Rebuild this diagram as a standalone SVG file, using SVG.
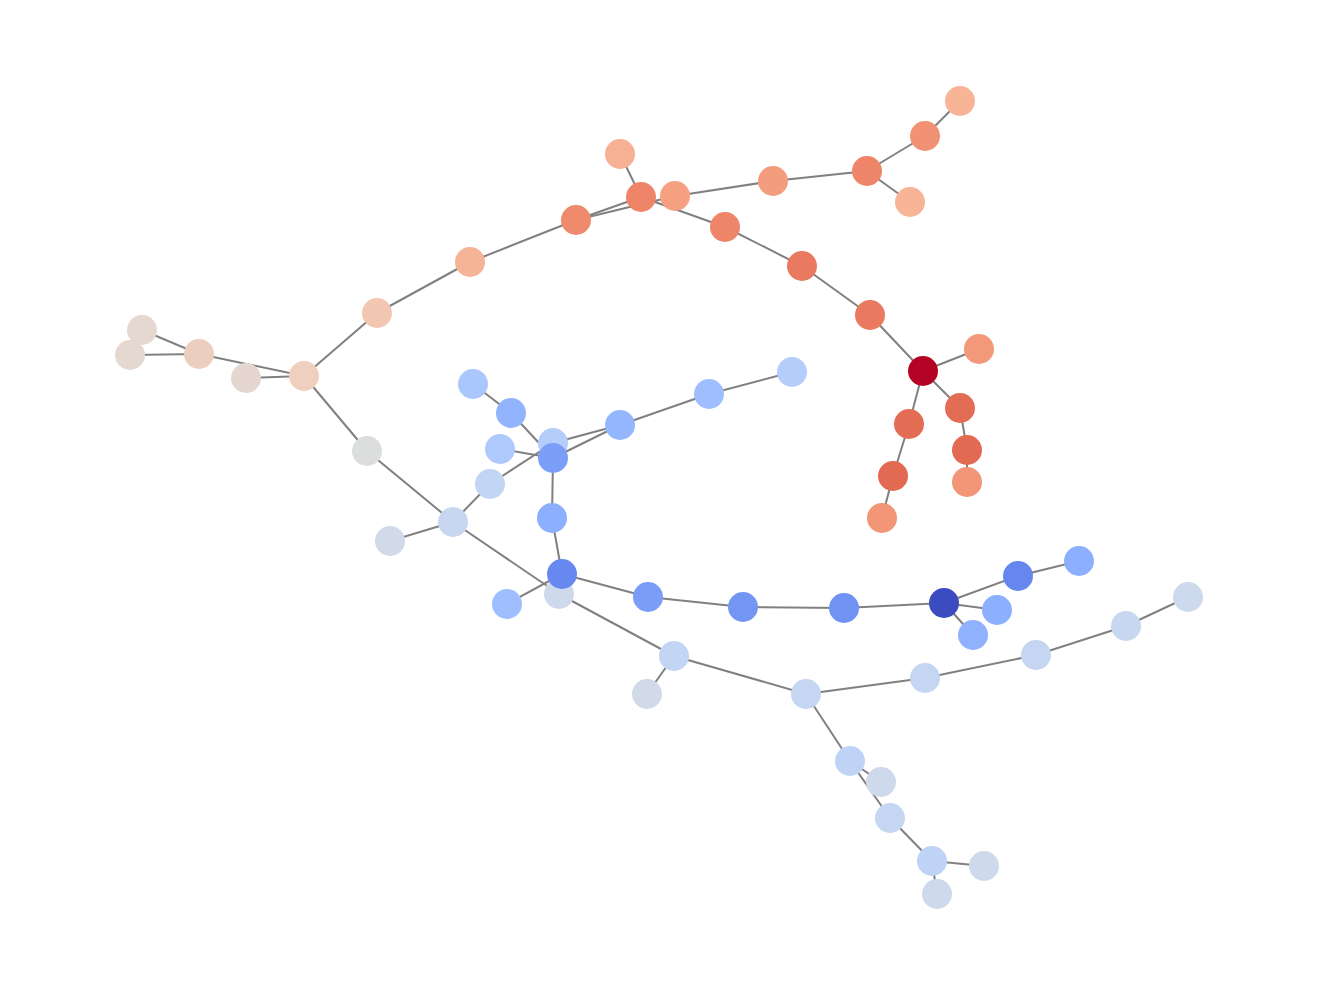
<svg xmlns="http://www.w3.org/2000/svg" width="1320" height="998" viewBox="0 0 1320 998">
<style>
.e line{stroke:#808080;stroke-width:2}
circle{r:15;stroke:none}
</style>
<rect width="1320" height="998" fill="#ffffff"/>
<g class="e" id="edges">
<line x1="960" y1="101" x2="925" y2="136"/>
<line x1="925" y1="136" x2="867" y2="171"/>
<line x1="867" y1="171" x2="910" y2="202"/>
<line x1="867" y1="171" x2="773" y2="181"/>
<line x1="773" y1="181" x2="675" y2="196"/>
<line x1="675" y1="196" x2="576" y2="220"/>
<line x1="641" y1="197" x2="576" y2="220"/>
<line x1="641" y1="197" x2="620" y2="154"/>
<line x1="641" y1="197" x2="725" y2="227"/>
<line x1="725" y1="227" x2="802" y2="266"/>
<line x1="802" y1="266" x2="870" y2="315"/>
<line x1="870" y1="315" x2="923" y2="371"/>
<line x1="923" y1="371" x2="979" y2="349"/>
<line x1="923" y1="371" x2="909" y2="424"/>
<line x1="909" y1="424" x2="893" y2="476"/>
<line x1="893" y1="476" x2="882" y2="518"/>
<line x1="923" y1="371" x2="960" y2="408"/>
<line x1="960" y1="408" x2="967" y2="450"/>
<line x1="967" y1="450" x2="967" y2="482"/>
<line x1="576" y1="220" x2="470" y2="262"/>
<line x1="470" y1="262" x2="377" y2="313"/>
<line x1="377" y1="313" x2="304" y2="376"/>
<line x1="304" y1="376" x2="246" y2="378"/>
<line x1="304" y1="376" x2="199" y2="354"/>
<line x1="199" y1="354" x2="142" y2="330"/>
<line x1="199" y1="354" x2="130" y2="355"/>
<line x1="304" y1="376" x2="367" y2="451"/>
<line x1="367" y1="451" x2="453" y2="522"/>
<line x1="453" y1="522" x2="390" y2="541"/>
<line x1="453" y1="522" x2="490" y2="484"/>
<line x1="453" y1="522" x2="559" y2="594"/>
<line x1="559" y1="594" x2="674" y2="656"/>
<line x1="674" y1="656" x2="647" y2="694"/>
<line x1="674" y1="656" x2="806" y2="694"/>
<line x1="806" y1="694" x2="925" y2="678"/>
<line x1="925" y1="678" x2="1036" y2="655"/>
<line x1="1036" y1="655" x2="1126" y2="626"/>
<line x1="1126" y1="626" x2="1188" y2="597"/>
<line x1="806" y1="694" x2="850" y2="761"/>
<line x1="850" y1="761" x2="881" y2="782"/>
<line x1="850" y1="761" x2="890" y2="818"/>
<line x1="890" y1="818" x2="932" y2="861"/>
<line x1="932" y1="861" x2="984" y2="866"/>
<line x1="932" y1="861" x2="937" y2="894"/>
<line x1="490" y1="484" x2="553" y2="443"/>
<line x1="553" y1="443" x2="620" y2="425"/>
<line x1="553" y1="458" x2="620" y2="425"/>
<line x1="553" y1="458" x2="511" y2="413"/>
<line x1="511" y1="413" x2="473" y2="384"/>
<line x1="553" y1="458" x2="500" y2="449"/>
<line x1="553" y1="458" x2="552" y2="518"/>
<line x1="552" y1="518" x2="562" y2="574"/>
<line x1="507" y1="604" x2="562" y2="574"/>
<line x1="620" y1="425" x2="709" y2="394"/>
<line x1="709" y1="394" x2="792" y2="372"/>
<line x1="562" y1="574" x2="648" y2="597"/>
<line x1="648" y1="597" x2="743" y2="607"/>
<line x1="743" y1="607" x2="844" y2="608"/>
<line x1="844" y1="608" x2="944" y2="603"/>
<line x1="944" y1="603" x2="1018" y2="576"/>
<line x1="1018" y1="576" x2="1079" y2="561"/>
<line x1="944" y1="603" x2="997" y2="610"/>
<line x1="944" y1="603" x2="973" y2="635"/>
</g>
<g id="n1"><circle cx="960" cy="101" r="15" fill="#f7b497"/></g>
<g id="n2"><circle cx="925" cy="136" r="15" fill="#f29274"/></g>
<g id="n3"><circle cx="910" cy="202" r="15" fill="#f7b497"/></g>
<g id="n4"><circle cx="867" cy="171" r="15" fill="#ee8468"/></g>
<g id="n5"><circle cx="773" cy="181" r="15" fill="#f39c7e"/></g>
<g id="n6"><circle cx="675" cy="196" r="15" fill="#f5a081"/></g>
<g id="n7"><circle cx="641" cy="197" r="15" fill="#ee8468"/></g>
<g id="n8"><circle cx="620" cy="154" r="15" fill="#f6b093"/></g>
<g id="n9"><circle cx="576" cy="220" r="15" fill="#f08a6c"/></g>
<g id="n10"><circle cx="470" cy="262" r="15" fill="#f6b496"/></g>
<g id="n11"><circle cx="377" cy="313" r="15" fill="#f2c7b2"/></g>
<g id="n12"><circle cx="304" cy="376" r="15" fill="#efcfbf"/></g>
<g id="n13"><circle cx="246" cy="378" r="15" fill="#e5d7cf"/></g>
<g id="n14"><circle cx="199" cy="354" r="15" fill="#eccebf"/></g>
<g id="n15"><circle cx="142" cy="330" r="15" fill="#e5d8d1"/></g>
<g id="n16"><circle cx="130" cy="355" r="15" fill="#e5d8d1"/></g>
<g id="n17"><circle cx="725" cy="227" r="15" fill="#ee8468"/></g>
<g id="n18"><circle cx="802" cy="266" r="15" fill="#e97a5f"/></g>
<g id="n19"><circle cx="870" cy="315" r="15" fill="#e97a5f"/></g>
<g id="n20"><circle cx="923" cy="371" r="15" fill="#b40426"/></g>
<g id="n21"><circle cx="979" cy="349" r="15" fill="#f4987a"/></g>
<g id="n22"><circle cx="909" cy="424" r="15" fill="#e36c55"/></g>
<g id="n23"><circle cx="893" cy="476" r="15" fill="#e26952"/></g>
<g id="n24"><circle cx="882" cy="518" r="15" fill="#f39577"/></g>
<g id="n25"><circle cx="960" cy="408" r="15" fill="#e36c55"/></g>
<g id="n26"><circle cx="967" cy="450" r="15" fill="#e26952"/></g>
<g id="n27"><circle cx="967" cy="482" r="15" fill="#f39577"/></g>
<g id="n28"><circle cx="367" cy="451" r="15" fill="#dcdddd"/></g>
<g id="n29"><circle cx="453" cy="522" r="15" fill="#c7d7f0"/></g>
<g id="n30"><circle cx="390" cy="541" r="15" fill="#d1dae9"/></g>
<g id="n31"><circle cx="490" cy="484" r="15" fill="#c3d5f4"/></g>
<g id="n32"><circle cx="559" cy="594" r="15" fill="#cedaeb"/></g>
<g id="n33"><circle cx="674" cy="656" r="15" fill="#c3d5f4"/></g>
<g id="n34"><circle cx="647" cy="694" r="15" fill="#d1dae9"/></g>
<g id="n35"><circle cx="806" cy="694" r="15" fill="#c5d6f2"/></g>
<g id="n36"><circle cx="925" cy="678" r="15" fill="#c5d6f2"/></g>
<g id="n37"><circle cx="1036" cy="655" r="15" fill="#c5d6f2"/></g>
<g id="n38"><circle cx="1126" cy="626" r="15" fill="#c7d7f0"/></g>
<g id="n39"><circle cx="1188" cy="597" r="15" fill="#cdd9ec"/></g>
<g id="n40"><circle cx="881" cy="782" r="15" fill="#cedaeb"/></g>
<g id="n41"><circle cx="850" cy="761" r="15" fill="#bfd3f6"/></g>
<g id="n42"><circle cx="890" cy="818" r="15" fill="#c5d6f2"/></g>
<g id="n43"><circle cx="932" cy="861" r="15" fill="#bfd3f6"/></g>
<g id="n44"><circle cx="984" cy="866" r="15" fill="#cedaeb"/></g>
<g id="n45"><circle cx="937" cy="894" r="15" fill="#cedaeb"/></g>
<g id="n46"><circle cx="553" cy="443" r="15" fill="#b5cdfa"/></g>
<g id="n47"><circle cx="553" cy="458" r="15" fill="#7b9ff9"/></g>
<g id="n48"><circle cx="511" cy="413" r="15" fill="#92b4fe"/></g>
<g id="n49"><circle cx="473" cy="384" r="15" fill="#aac7fd"/></g>
<g id="n50"><circle cx="500" cy="449" r="15" fill="#aec9fc"/></g>
<g id="n51"><circle cx="552" cy="518" r="15" fill="#8caffe"/></g>
<g id="n52"><circle cx="562" cy="574" r="15" fill="#6788ee"/></g>
<g id="n53"><circle cx="507" cy="604" r="15" fill="#9ebeff"/></g>
<g id="n54"><circle cx="620" cy="425" r="15" fill="#94b6ff"/></g>
<g id="n55"><circle cx="709" cy="394" r="15" fill="#9ebeff"/></g>
<g id="n56"><circle cx="792" cy="372" r="15" fill="#b5cdfa"/></g>
<g id="n57"><circle cx="648" cy="597" r="15" fill="#7a9df8"/></g>
<g id="n58"><circle cx="743" cy="607" r="15" fill="#7396f5"/></g>
<g id="n59"><circle cx="844" cy="608" r="15" fill="#6f92f3"/></g>
<g id="n60"><circle cx="944" cy="603" r="15" fill="#3b4cc0"/></g>
<g id="n61"><circle cx="1018" cy="576" r="15" fill="#6687ed"/></g>
<g id="n62"><circle cx="1079" cy="561" r="15" fill="#8db0fe"/></g>
<g id="n63"><circle cx="997" cy="610" r="15" fill="#8caffe"/></g>
<g id="n64"><circle cx="973" cy="635" r="15" fill="#8fb1fe"/></g>
</svg>
